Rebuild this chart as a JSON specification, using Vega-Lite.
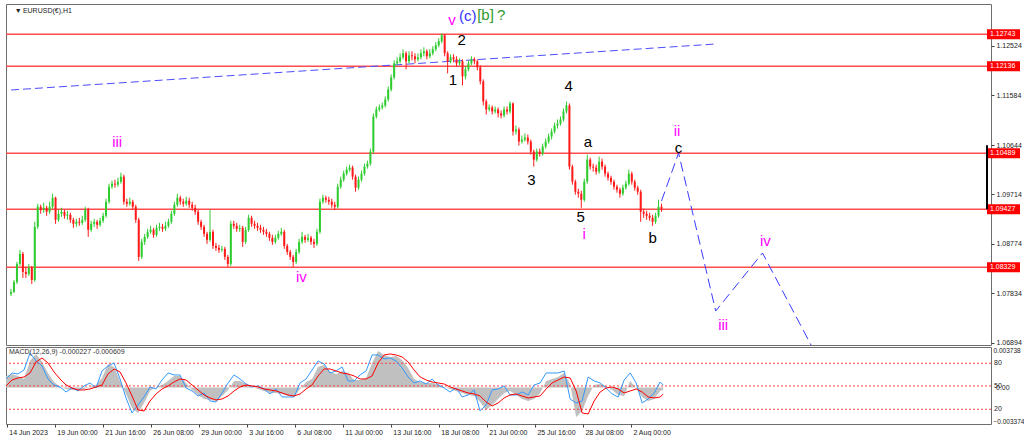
{
  "$schema": "https://vega.github.io/schema/vega-lite/v6.json",
  "background": "white",
  "padding": {"left": 3, "top": 3, "right": 0, "bottom": 0},
  "spacing": 2,
  "bounds": "flush",
  "config": {
    "view": {"stroke": "#6e6e6e", "strokeWidth": 1},
    "font": "Liberation Sans",
    "axis": {"labelFont": "Liberation Sans", "labelFontSize": 7, "labelColor": "#222222", "tickColor": "#444444", "grid": false, "domain": false, "title": null}
  },
  "datasets": {
    "candles": [
      {"i":0,"o":1.07822,"h":1.07917,"l":1.07784,"c":1.0786},
      {"i":4,"o":1.0786,"h":1.08088,"l":1.07841,"c":1.0805},
      {"i":8,"o":1.0805,"h":1.0843,"l":1.08012,"c":1.08392},
      {"i":12,"o":1.08392,"h":1.08658,"l":1.08354,"c":1.08582},
      {"i":16,"o":1.08582,"h":1.0862,"l":1.08126,"c":1.0824},
      {"i":20,"o":1.0824,"h":1.08335,"l":1.08126,"c":1.08202},
      {"i":24,"o":1.08202,"h":1.08392,"l":1.08164,"c":1.08316},
      {"i":28,"o":1.08316,"h":1.08354,"l":1.08012,"c":1.08088},
      {"i":32,"o":1.08088,"h":1.0919,"l":1.0805,"c":1.09095},
      {"i":36,"o":1.09095,"h":1.09532,"l":1.09057,"c":1.09475},
      {"i":40,"o":1.09475,"h":1.09513,"l":1.09342,"c":1.09418},
      {"i":44,"o":1.09418,"h":1.09551,"l":1.09361,"c":1.09456},
      {"i":48,"o":1.09456,"h":1.09494,"l":1.09304,"c":1.0938},
      {"i":52,"o":1.0938,"h":1.0957,"l":1.09342,"c":1.09475},
      {"i":56,"o":1.09475,"h":1.09722,"l":1.09437,"c":1.09646},
      {"i":60,"o":1.09646,"h":1.09665,"l":1.09152,"c":1.09228},
      {"i":64,"o":1.09228,"h":1.09418,"l":1.0919,"c":1.09342},
      {"i":68,"o":1.09342,"h":1.09456,"l":1.09285,"c":1.0938},
      {"i":72,"o":1.0938,"h":1.09418,"l":1.09247,"c":1.09304},
      {"i":76,"o":1.09304,"h":1.09399,"l":1.09228,"c":1.09323},
      {"i":80,"o":1.09323,"h":1.09361,"l":1.09171,"c":1.09228},
      {"i":84,"o":1.09228,"h":1.09266,"l":1.09076,"c":1.09152},
      {"i":88,"o":1.09152,"h":1.09247,"l":1.09095,"c":1.0919},
      {"i":92,"o":1.0919,"h":1.09266,"l":1.09114,"c":1.09171},
      {"i":96,"o":1.09171,"h":1.09304,"l":1.09133,"c":1.09228},
      {"i":100,"o":1.09228,"h":1.09475,"l":1.0919,"c":1.09418},
      {"i":104,"o":1.09418,"h":1.09456,"l":1.08905,"c":1.09038},
      {"i":108,"o":1.09038,"h":1.09209,"l":1.09,"c":1.09152},
      {"i":112,"o":1.09152,"h":1.09247,"l":1.09095,"c":1.0919},
      {"i":116,"o":1.0919,"h":1.09228,"l":1.09057,"c":1.09133},
      {"i":120,"o":1.09133,"h":1.09266,"l":1.09095,"c":1.09209},
      {"i":124,"o":1.09209,"h":1.09361,"l":1.09171,"c":1.09304},
      {"i":128,"o":1.09304,"h":1.09627,"l":1.09266,"c":1.0957},
      {"i":132,"o":1.0957,"h":1.09912,"l":1.09532,"c":1.09855},
      {"i":136,"o":1.09855,"h":1.09969,"l":1.09817,"c":1.09912},
      {"i":140,"o":1.09912,"h":1.09988,"l":1.09836,"c":1.09893},
      {"i":144,"o":1.09893,"h":1.10026,"l":1.09855,"c":1.0995},
      {"i":148,"o":1.0995,"h":1.10121,"l":1.09912,"c":1.10045},
      {"i":152,"o":1.10045,"h":1.10083,"l":1.09513,"c":1.0957},
      {"i":156,"o":1.0957,"h":1.09627,"l":1.09475,"c":1.09532},
      {"i":160,"o":1.09532,"h":1.09646,"l":1.09494,"c":1.0957},
      {"i":164,"o":1.0957,"h":1.09608,"l":1.09418,"c":1.09475},
      {"i":168,"o":1.09475,"h":1.09513,"l":1.09171,"c":1.09228},
      {"i":172,"o":1.09228,"h":1.09266,"l":1.08449,"c":1.08525},
      {"i":176,"o":1.08525,"h":1.08867,"l":1.08487,"c":1.0881},
      {"i":180,"o":1.0881,"h":1.08962,"l":1.08753,"c":1.08905},
      {"i":184,"o":1.08905,"h":1.09057,"l":1.08867,"c":1.09},
      {"i":188,"o":1.09,"h":1.09114,"l":1.08962,"c":1.09038},
      {"i":192,"o":1.09038,"h":1.09076,"l":1.08886,"c":1.08943},
      {"i":196,"o":1.08943,"h":1.09133,"l":1.08905,"c":1.09076},
      {"i":200,"o":1.09076,"h":1.09171,"l":1.09019,"c":1.09095},
      {"i":204,"o":1.09095,"h":1.09152,"l":1.09,"c":1.09057},
      {"i":208,"o":1.09057,"h":1.0919,"l":1.09019,"c":1.09114},
      {"i":212,"o":1.09114,"h":1.09247,"l":1.09076,"c":1.0919},
      {"i":216,"o":1.0919,"h":1.09399,"l":1.09152,"c":1.09342},
      {"i":220,"o":1.09342,"h":1.0957,"l":1.09304,"c":1.09513},
      {"i":224,"o":1.09513,"h":1.09722,"l":1.09475,"c":1.09646},
      {"i":228,"o":1.09646,"h":1.09684,"l":1.09513,"c":1.0957},
      {"i":232,"o":1.0957,"h":1.09627,"l":1.09475,"c":1.09532},
      {"i":236,"o":1.09532,"h":1.09665,"l":1.09494,"c":1.09589},
      {"i":240,"o":1.09589,"h":1.09646,"l":1.09456,"c":1.09513},
      {"i":244,"o":1.09513,"h":1.0957,"l":1.09399,"c":1.09456},
      {"i":248,"o":1.09456,"h":1.09513,"l":1.09323,"c":1.0938},
      {"i":252,"o":1.0938,"h":1.09418,"l":1.09133,"c":1.0919},
      {"i":256,"o":1.0919,"h":1.09228,"l":1.09038,"c":1.09095},
      {"i":260,"o":1.09095,"h":1.09133,"l":1.08905,"c":1.08962},
      {"i":264,"o":1.08962,"h":1.09,"l":1.08772,"c":1.08848},
      {"i":268,"o":1.08848,"h":1.09418,"l":1.0881,"c":1.09},
      {"i":272,"o":1.09,"h":1.09038,"l":1.08677,"c":1.08734},
      {"i":276,"o":1.08734,"h":1.08791,"l":1.08639,"c":1.08696},
      {"i":280,"o":1.08696,"h":1.08753,"l":1.08601,"c":1.08658},
      {"i":284,"o":1.08658,"h":1.08734,"l":1.0862,"c":1.08677},
      {"i":288,"o":1.08677,"h":1.08715,"l":1.08468,"c":1.08525},
      {"i":292,"o":1.08525,"h":1.08563,"l":1.08335,"c":1.08392},
      {"i":296,"o":1.08392,"h":1.09209,"l":1.08354,"c":1.09152},
      {"i":300,"o":1.09152,"h":1.09209,"l":1.09057,"c":1.09114},
      {"i":304,"o":1.09114,"h":1.09171,"l":1.09,"c":1.09057},
      {"i":308,"o":1.09057,"h":1.09133,"l":1.09,"c":1.09076},
      {"i":312,"o":1.09076,"h":1.09114,"l":1.08715,"c":1.0881},
      {"i":316,"o":1.0881,"h":1.09095,"l":1.08772,"c":1.09038},
      {"i":320,"o":1.09038,"h":1.09323,"l":1.09,"c":1.09266},
      {"i":324,"o":1.09266,"h":1.09304,"l":1.09095,"c":1.09152},
      {"i":328,"o":1.09152,"h":1.09209,"l":1.09057,"c":1.09114},
      {"i":332,"o":1.09114,"h":1.09171,"l":1.09019,"c":1.09076},
      {"i":336,"o":1.09076,"h":1.09133,"l":1.08981,"c":1.09038},
      {"i":340,"o":1.09038,"h":1.09095,"l":1.08943,"c":1.09},
      {"i":344,"o":1.09,"h":1.09057,"l":1.08905,"c":1.08962},
      {"i":348,"o":1.08962,"h":1.09,"l":1.08829,"c":1.08886},
      {"i":352,"o":1.08886,"h":1.08943,"l":1.08753,"c":1.0881},
      {"i":356,"o":1.0881,"h":1.08943,"l":1.08772,"c":1.08886},
      {"i":360,"o":1.08886,"h":1.09019,"l":1.08848,"c":1.08962},
      {"i":364,"o":1.08962,"h":1.09076,"l":1.08924,"c":1.09},
      {"i":368,"o":1.09,"h":1.09038,"l":1.08677,"c":1.08734},
      {"i":372,"o":1.08734,"h":1.08772,"l":1.08563,"c":1.0862},
      {"i":376,"o":1.0862,"h":1.08658,"l":1.08468,"c":1.08525},
      {"i":380,"o":1.08525,"h":1.08563,"l":1.08335,"c":1.0843},
      {"i":384,"o":1.0843,"h":1.08677,"l":1.08392,"c":1.0862},
      {"i":388,"o":1.0862,"h":1.08867,"l":1.08582,"c":1.0881},
      {"i":392,"o":1.0881,"h":1.09,"l":1.08772,"c":1.08905},
      {"i":396,"o":1.08905,"h":1.08943,"l":1.08791,"c":1.08848},
      {"i":400,"o":1.08848,"h":1.08962,"l":1.0881,"c":1.08886},
      {"i":404,"o":1.08886,"h":1.08924,"l":1.08753,"c":1.0881},
      {"i":408,"o":1.0881,"h":1.08867,"l":1.08696,"c":1.08772},
      {"i":412,"o":1.08772,"h":1.09057,"l":1.08734,"c":1.09},
      {"i":416,"o":1.09,"h":1.09627,"l":1.08962,"c":1.0957},
      {"i":420,"o":1.0957,"h":1.09703,"l":1.09532,"c":1.09646},
      {"i":424,"o":1.09646,"h":1.09684,"l":1.09551,"c":1.09608},
      {"i":428,"o":1.09608,"h":1.09665,"l":1.09513,"c":1.0957},
      {"i":432,"o":1.0957,"h":1.09627,"l":1.09456,"c":1.09513},
      {"i":436,"o":1.09513,"h":1.0957,"l":1.09418,"c":1.09475},
      {"i":440,"o":1.09475,"h":1.09912,"l":1.09437,"c":1.09855},
      {"i":444,"o":1.09855,"h":1.10045,"l":1.09817,"c":1.09988},
      {"i":448,"o":1.09988,"h":1.10159,"l":1.0995,"c":1.10102},
      {"i":452,"o":1.10102,"h":1.10235,"l":1.10064,"c":1.10178},
      {"i":456,"o":1.10178,"h":1.10273,"l":1.1014,"c":1.10216},
      {"i":460,"o":1.10216,"h":1.10254,"l":1.09988,"c":1.10045},
      {"i":464,"o":1.10045,"h":1.10083,"l":1.0976,"c":1.09836},
      {"i":468,"o":1.09836,"h":1.10045,"l":1.09798,"c":1.09988},
      {"i":472,"o":1.09988,"h":1.10159,"l":1.0995,"c":1.10102},
      {"i":476,"o":1.10102,"h":1.10292,"l":1.10064,"c":1.10235},
      {"i":480,"o":1.10235,"h":1.10349,"l":1.10197,"c":1.10292},
      {"i":484,"o":1.10292,"h":1.10577,"l":1.10254,"c":1.1052},
      {"i":488,"o":1.1052,"h":1.11242,"l":1.10482,"c":1.11185},
      {"i":492,"o":1.11185,"h":1.11375,"l":1.11147,"c":1.11318},
      {"i":496,"o":1.11318,"h":1.11413,"l":1.1128,"c":1.11356},
      {"i":500,"o":1.11356,"h":1.11451,"l":1.11318,"c":1.11394},
      {"i":504,"o":1.11394,"h":1.11565,"l":1.11356,"c":1.11508},
      {"i":508,"o":1.11508,"h":1.11755,"l":1.1147,"c":1.11698},
      {"i":512,"o":1.11698,"h":1.11983,"l":1.1166,"c":1.11926},
      {"i":516,"o":1.11926,"h":1.12249,"l":1.11888,"c":1.12192},
      {"i":520,"o":1.12192,"h":1.12306,"l":1.12154,"c":1.1223},
      {"i":524,"o":1.1223,"h":1.12382,"l":1.12192,"c":1.12306},
      {"i":528,"o":1.12306,"h":1.12458,"l":1.12268,"c":1.12382},
      {"i":532,"o":1.12382,"h":1.1242,"l":1.12078,"c":1.1223},
      {"i":536,"o":1.1223,"h":1.1242,"l":1.12192,"c":1.12344},
      {"i":540,"o":1.12344,"h":1.1242,"l":1.12249,"c":1.12325},
      {"i":544,"o":1.12325,"h":1.12382,"l":1.12192,"c":1.12268},
      {"i":548,"o":1.12268,"h":1.12382,"l":1.1223,"c":1.12306},
      {"i":552,"o":1.12306,"h":1.12458,"l":1.12268,"c":1.12382},
      {"i":556,"o":1.12382,"h":1.12496,"l":1.12325,"c":1.1242},
      {"i":560,"o":1.1242,"h":1.12458,"l":1.12268,"c":1.12325},
      {"i":564,"o":1.12325,"h":1.12458,"l":1.12287,"c":1.12382},
      {"i":568,"o":1.12382,"h":1.12515,"l":1.12344,"c":1.12458},
      {"i":572,"o":1.12458,"h":1.12591,"l":1.1242,"c":1.12534},
      {"i":576,"o":1.12534,"h":1.12667,"l":1.12496,"c":1.1261},
      {"i":580,"o":1.1261,"h":1.12762,"l":1.12572,"c":1.12724},
      {"i":584,"o":1.12724,"h":1.12743,"l":1.12325,"c":1.12382},
      {"i":588,"o":1.12382,"h":1.1242,"l":1.12002,"c":1.1223},
      {"i":592,"o":1.1223,"h":1.12363,"l":1.12192,"c":1.12306},
      {"i":596,"o":1.12306,"h":1.12363,"l":1.12211,"c":1.12268},
      {"i":600,"o":1.12268,"h":1.12325,"l":1.12135,"c":1.12192},
      {"i":604,"o":1.12192,"h":1.12287,"l":1.12154,"c":1.1223},
      {"i":608,"o":1.1223,"h":1.12268,"l":1.11774,"c":1.11945},
      {"i":612,"o":1.11945,"h":1.12135,"l":1.11888,"c":1.12078},
      {"i":616,"o":1.12078,"h":1.12249,"l":1.1204,"c":1.12192},
      {"i":620,"o":1.12192,"h":1.12325,"l":1.12154,"c":1.12268},
      {"i":624,"o":1.12268,"h":1.12306,"l":1.12173,"c":1.1223},
      {"i":628,"o":1.1223,"h":1.12268,"l":1.12059,"c":1.12116},
      {"i":632,"o":1.12116,"h":1.12154,"l":1.11793,"c":1.1185},
      {"i":636,"o":1.1185,"h":1.11888,"l":1.11394,"c":1.1147},
      {"i":640,"o":1.1147,"h":1.11508,"l":1.11223,"c":1.11318},
      {"i":644,"o":1.11318,"h":1.11413,"l":1.1128,"c":1.11356},
      {"i":648,"o":1.11356,"h":1.11394,"l":1.11223,"c":1.1128},
      {"i":652,"o":1.1128,"h":1.11375,"l":1.11242,"c":1.11318},
      {"i":656,"o":1.11318,"h":1.11356,"l":1.11166,"c":1.11242},
      {"i":660,"o":1.11242,"h":1.11299,"l":1.11147,"c":1.11204},
      {"i":664,"o":1.11204,"h":1.11375,"l":1.11166,"c":1.11318},
      {"i":668,"o":1.11318,"h":1.11375,"l":1.11223,"c":1.1128},
      {"i":672,"o":1.1128,"h":1.1147,"l":1.11242,"c":1.11432},
      {"i":676,"o":1.11432,"h":1.11451,"l":1.10824,"c":1.109},
      {"i":680,"o":1.109,"h":1.11014,"l":1.10843,"c":1.10938},
      {"i":684,"o":1.10938,"h":1.10976,"l":1.10634,"c":1.1071},
      {"i":688,"o":1.1071,"h":1.10824,"l":1.10672,"c":1.10748},
      {"i":692,"o":1.10748,"h":1.10862,"l":1.1071,"c":1.10786},
      {"i":696,"o":1.10786,"h":1.10843,"l":1.10653,"c":1.1071},
      {"i":700,"o":1.1071,"h":1.10748,"l":1.10463,"c":1.1052},
      {"i":704,"o":1.1052,"h":1.10558,"l":1.10235,"c":1.10368},
      {"i":708,"o":1.10368,"h":1.10577,"l":1.1033,"c":1.1052},
      {"i":712,"o":1.1052,"h":1.10577,"l":1.10425,"c":1.10482},
      {"i":716,"o":1.10482,"h":1.10672,"l":1.10444,"c":1.10615},
      {"i":720,"o":1.10615,"h":1.10767,"l":1.10577,"c":1.1071},
      {"i":724,"o":1.1071,"h":1.10862,"l":1.10672,"c":1.10805},
      {"i":728,"o":1.10805,"h":1.10957,"l":1.10748,"c":1.109},
      {"i":732,"o":1.109,"h":1.11071,"l":1.10862,"c":1.11014},
      {"i":736,"o":1.11014,"h":1.11128,"l":1.10957,"c":1.11052},
      {"i":740,"o":1.11052,"h":1.11185,"l":1.11014,"c":1.11128},
      {"i":744,"o":1.11128,"h":1.11337,"l":1.1109,"c":1.1128},
      {"i":748,"o":1.1128,"h":1.1147,"l":1.11242,"c":1.11394},
      {"i":752,"o":1.11394,"h":1.11432,"l":1.10178,"c":1.10235},
      {"i":756,"o":1.10235,"h":1.10273,"l":1.09893,"c":1.0995},
      {"i":760,"o":1.0995,"h":1.09988,"l":1.09703,"c":1.0976},
      {"i":764,"o":1.0976,"h":1.09817,"l":1.09646,"c":1.09722},
      {"i":768,"o":1.09722,"h":1.09779,"l":1.09456,"c":1.09608},
      {"i":772,"o":1.09608,"h":1.10007,"l":1.0957,"c":1.0995},
      {"i":776,"o":1.0995,"h":1.10463,"l":1.09912,"c":1.10368},
      {"i":780,"o":1.10368,"h":1.10406,"l":1.10178,"c":1.10235},
      {"i":784,"o":1.10235,"h":1.10292,"l":1.1014,"c":1.10216},
      {"i":788,"o":1.10216,"h":1.10273,"l":1.10083,"c":1.1014},
      {"i":792,"o":1.1014,"h":1.10425,"l":1.10102,"c":1.1033},
      {"i":796,"o":1.1033,"h":1.10387,"l":1.10178,"c":1.10235},
      {"i":800,"o":1.10235,"h":1.10273,"l":1.10045,"c":1.10102},
      {"i":804,"o":1.10102,"h":1.1014,"l":1.09969,"c":1.10026},
      {"i":808,"o":1.10026,"h":1.10064,"l":1.09893,"c":1.0995},
      {"i":812,"o":1.0995,"h":1.09988,"l":1.09798,"c":1.09855},
      {"i":816,"o":1.09855,"h":1.09893,"l":1.09741,"c":1.09798},
      {"i":820,"o":1.09798,"h":1.09836,"l":1.09646,"c":1.09722},
      {"i":824,"o":1.09722,"h":1.09893,"l":1.09684,"c":1.09836},
      {"i":828,"o":1.09836,"h":1.09969,"l":1.09798,"c":1.09912},
      {"i":832,"o":1.09912,"h":1.10178,"l":1.09874,"c":1.10102},
      {"i":836,"o":1.10102,"h":1.1014,"l":1.09893,"c":1.0995},
      {"i":840,"o":1.0995,"h":1.09988,"l":1.09779,"c":1.09836},
      {"i":844,"o":1.09836,"h":1.09874,"l":1.09703,"c":1.0976},
      {"i":848,"o":1.0976,"h":1.09798,"l":1.0919,"c":1.0938},
      {"i":852,"o":1.0938,"h":1.09437,"l":1.09266,"c":1.09342},
      {"i":856,"o":1.09342,"h":1.09399,"l":1.09228,"c":1.09304},
      {"i":860,"o":1.09304,"h":1.09361,"l":1.09209,"c":1.09266},
      {"i":864,"o":1.09266,"h":1.09323,"l":1.09114,"c":1.0919},
      {"i":868,"o":1.0919,"h":1.09361,"l":1.09152,"c":1.09304},
      {"i":872,"o":1.09304,"h":1.09608,"l":1.09266,"c":1.09475},
      {"i":876,"o":1.09475,"h":1.09532,"l":1.0938,"c":1.09437}
    ],
    "macd": [
      {"i":0,"h":0.001063,"s":0.000139,"f":0.000785},
      {"i":8,"h":0.001247,"s":0.000693,"f":0.00134},
      {"i":16,"h":0.001063,"s":0.000878,"f":0.001247},
      {"i":24,"h":0.000785,"s":0.00097,"f":0.001617},
      {"i":32,"h":0.002449,"s":0.00134,"f":0.003188},
      {"i":40,"h":0.003095,"s":0.002356,"f":0.002449},
      {"i":48,"h":0.002356,"s":0.002726,"f":0.001987},
      {"i":56,"h":0.00134,"s":0.002264,"f":0.000785},
      {"i":64,"h":0.000508,"s":0.001432,"f":0.000231},
      {"i":72,"h":0.000046,"s":0.000785,"f":0.000046},
      {"i":80,"h":-0.000139,"s":0.000231,"f":-0.000416},
      {"i":88,"h":-0.000231,"s":-0.000046,"f":-0.000046},
      {"i":96,"h":-0.000231,"s":-0.000231,"f":-0.000323},
      {"i":104,"h":-0.000139,"s":-0.000231,"f":0.000139},
      {"i":112,"h":0.000046,"s":-0.000139,"f":0.000416},
      {"i":120,"h":0.000231,"s":0.000046,"f":-0.000046},
      {"i":128,"h":0.000878,"s":0.000231,"f":0.001525},
      {"i":136,"h":0.002171,"s":0.001247,"f":0.001987},
      {"i":144,"h":0.001894,"s":0.001709,"f":0.002264},
      {"i":152,"h":0.000601,"s":0.001432,"f":0.000785},
      {"i":160,"h":-0.000601,"s":0.000416,"f":-0.00097},
      {"i":168,"h":-0.001894,"s":-0.000785,"f":-0.002356},
      {"i":176,"h":-0.002356,"s":-0.002079,"f":-0.001617},
      {"i":184,"h":-0.001432,"s":-0.002171,"f":-0.000878},
      {"i":192,"h":-0.000323,"s":-0.001247,"f":0.000046},
      {"i":200,"h":0.000046,"s":-0.000601,"f":-0.000139},
      {"i":208,"h":0.000231,"s":-0.000139,"f":0.000693},
      {"i":216,"h":0.000601,"s":0.000139,"f":0.00134},
      {"i":224,"h":0.001063,"s":0.000508,"f":0.001155},
      {"i":232,"h":0.001063,"s":0.000785,"f":0.001155},
      {"i":240,"h":0.000416,"s":0.000693,"f":-0.000046},
      {"i":248,"h":-0.000231,"s":0.000231,"f":-0.000323},
      {"i":256,"h":-0.000693,"s":-0.000231,"f":-0.000785},
      {"i":264,"h":-0.001063,"s":-0.000693,"f":-0.000508},
      {"i":272,"h":-0.001155,"s":-0.00097,"f":-0.001247},
      {"i":280,"h":-0.001247,"s":-0.001155,"f":-0.00134},
      {"i":288,"h":-0.000785,"s":-0.001063,"f":-0.000508},
      {"i":296,"h":-0.000231,"s":-0.000785,"f":0.000416},
      {"i":304,"h":0.000601,"s":-0.000323,"f":0.001155},
      {"i":312,"h":0.000601,"s":0.000046,"f":0.000785},
      {"i":320,"h":0.000323,"s":0.000231,"f":0.000323},
      {"i":328,"h":0.000046,"s":0.000139,"f":0.000046},
      {"i":336,"h":-0.000139,"s":0.000046,"f":0.000139},
      {"i":344,"h":-0.000323,"s":-0.000139,"f":-0.000139},
      {"i":352,"h":-0.000508,"s":-0.000231,"f":-0.000601},
      {"i":360,"h":-0.000508,"s":-0.000323,"f":-0.000139},
      {"i":368,"h":-0.000601,"s":-0.000508,"f":-0.000878},
      {"i":376,"h":-0.000785,"s":-0.000693,"f":-0.000878},
      {"i":384,"h":-0.000878,"s":-0.000785,"f":-0.000878},
      {"i":392,"h":-0.000139,"s":-0.000601,"f":0.000416},
      {"i":400,"h":0.000508,"s":-0.000139,"f":0.000785},
      {"i":408,"h":0.000785,"s":0.000231,"f":0.001617},
      {"i":416,"h":0.001894,"s":0.001063,"f":0.002449},
      {"i":424,"h":0.002079,"s":0.001709,"f":0.002171},
      {"i":432,"h":0.001432,"s":0.001709,"f":0.00134},
      {"i":440,"h":0.001247,"s":0.001525,"f":0.001525},
      {"i":448,"h":0.001525,"s":0.00134,"f":0.001894},
      {"i":456,"h":0.00134,"s":0.001247,"f":0.000601},
      {"i":464,"h":0.000693,"s":0.001063,"f":0.000601},
      {"i":472,"h":0.000693,"s":0.000785,"f":0.001155},
      {"i":480,"h":0.000878,"s":0.000785,"f":0.001525},
      {"i":488,"h":0.002264,"s":0.001063,"f":0.003003},
      {"i":496,"h":0.003373,"s":0.002264,"f":0.003003},
      {"i":504,"h":0.003003,"s":0.003003,"f":0.002633},
      {"i":512,"h":0.002818,"s":0.003095,"f":0.002726},
      {"i":520,"h":0.002911,"s":0.003003,"f":0.002449},
      {"i":528,"h":0.002541,"s":0.002818,"f":0.001802},
      {"i":536,"h":0.001802,"s":0.002356,"f":0.00097},
      {"i":544,"h":0.000785,"s":0.001617,"f":0.000416},
      {"i":552,"h":0.000508,"s":0.00097,"f":0.000601},
      {"i":560,"h":0.000416,"s":0.000693,"f":0.000323},
      {"i":568,"h":0.000416,"s":0.000508,"f":0.000785},
      {"i":576,"h":0.000323,"s":0.000416,"f":0.000231},
      {"i":584,"h":0.000046,"s":0.000323,"f":-0.000046},
      {"i":592,"h":-0.000139,"s":0.000046,"f":-0.000416},
      {"i":600,"h":-0.000323,"s":-0.000139,"f":-0.000046},
      {"i":608,"h":-0.000508,"s":-0.000323,"f":-0.000878},
      {"i":616,"h":-0.000693,"s":-0.000508,"f":-0.000693},
      {"i":624,"h":-0.000785,"s":-0.000601,"f":-0.000231},
      {"i":632,"h":-0.00134,"s":-0.000785,"f":-0.002171},
      {"i":640,"h":-0.002079,"s":-0.00134,"f":-0.001617},
      {"i":648,"h":-0.001617,"s":-0.001709,"f":-0.000231},
      {"i":656,"h":-0.001063,"s":-0.001432,"f":-0.000139},
      {"i":664,"h":-0.000508,"s":-0.00097,"f":0.000139},
      {"i":672,"h":-0.000323,"s":-0.000693,"f":-0.000693},
      {"i":680,"h":-0.000693,"s":-0.000601,"f":-0.000693},
      {"i":688,"h":-0.001063,"s":-0.000785,"f":-0.000416},
      {"i":696,"h":-0.001247,"s":-0.00097,"f":-0.000693},
      {"i":704,"h":-0.001063,"s":-0.000878,"f":0.000231},
      {"i":712,"h":-0.000508,"s":-0.000785,"f":0.000416},
      {"i":720,"h":0.000601,"s":-0.000139,"f":0.00134},
      {"i":728,"h":0.000785,"s":0.000416,"f":0.00134},
      {"i":736,"h":0.00097,"s":0.000693,"f":0.00134},
      {"i":744,"h":0.00134,"s":0.00097,"f":0.001525},
      {"i":752,"h":0.000323,"s":0.000878,"f":-0.001063},
      {"i":760,"h":-0.002726,"s":-0.000323,"f":-0.001432},
      {"i":768,"h":-0.002171,"s":-0.002356,"f":-0.001247},
      {"i":776,"h":-0.000785,"s":-0.002449,"f":0.00097},
      {"i":784,"h":0.000231,"s":-0.001247,"f":0.000601},
      {"i":792,"h":0.000323,"s":-0.000416,"f":0.000416},
      {"i":800,"h":0.000139,"s":-0.000046,"f":-0.000046},
      {"i":808,"h":-0.000231,"s":0.000046,"f":-0.000601},
      {"i":816,"h":-0.000693,"s":-0.000139,"f":-0.000878},
      {"i":824,"h":-0.000785,"s":-0.000508,"f":0.000693},
      {"i":832,"h":0.000601,"s":-0.000323,"f":0.00134},
      {"i":840,"h":-0.000046,"s":-0.000139,"f":0.000416},
      {"i":848,"h":-0.000878,"s":-0.000416,"f":-0.001432},
      {"i":856,"h":-0.001247,"s":-0.000878,"f":-0.001063},
      {"i":864,"h":-0.001063,"s":-0.00097,"f":-0.000508},
      {"i":872,"h":-0.000323,"s":-0.000878,"f":0.000508},
      {"i":876,"h":-0.000227,"s":-0.000609,"f":0.000231}
    ],
    "levels": [
      {"p":1.12743},{"p":1.12136},{"p":1.10489},{"p":1.09427},{"p":1.08329}
    ],
    "macdLevels": [
      {"v":0.002236,"t":"80"},
      {"v":0.000139,"t":"50"},
      {"v":-0.002014,"t":"20"}
    ],
    "trend": [
      {"i":0,"p":1.11687},{"i":949,"p":1.12558}
    ],
    "proj": [
      {"i":876,"p":1.09584},{"i":899,"p":1.10493},{"i":949,"p":1.075},{"i":1012,"p":1.08599},{"i":1078,"p":1.0684}
    ],
    "waves": [
      {"i":143,"p":1.10702,"t":"iii","col":"#ff00ff"},
      {"i":391,"p":1.08144,"t":"iv","col":"#ff00ff"},
      {"i":594,"p":1.13013,"t":"v","col":"#ff00ff"},
      {"i":615,"p":1.13089,"t":"(c)","col":"#3333ff"},
      {"i":639,"p":1.13108,"t":"[b]","col":"#2e9a2e"},
      {"i":660,"p":1.13108,"t":"?","col":"#2e9a2e"},
      {"i":607,"p":1.12634,"t":"2","col":"#000000"},
      {"i":595,"p":1.11876,"t":"1","col":"#000000"},
      {"i":701,"p":1.0998,"t":"3","col":"#000000"},
      {"i":751,"p":1.11763,"t":"4","col":"#000000"},
      {"i":767,"p":1.09281,"t":"5","col":"#000000"},
      {"i":772,"p":1.08959,"t":"i","col":"#ff00ff"},
      {"i":777,"p":1.10702,"t":"a","col":"#000000"},
      {"i":864,"p":1.08883,"t":"b","col":"#000000"},
      {"i":897,"p":1.10909,"t":"ii","col":"#ff00ff"},
      {"i":899,"p":1.10588,"t":"c","col":"#000000"},
      {"i":959,"p":1.07235,"t":"iii","col":"#ff00ff"},
      {"i":1016,"p":1.08826,"t":"iv","col":"#ff00ff"}
    ]
  },
  "vconcat": [
    {
      "width": 985,
      "height": 341,
      "layer": [
        {
          "data": {"name": "levels"},
          "mark": {"type": "rule", "color": "#ff4d4d", "strokeWidth": 1.5},
          "encoding": {
            "y": {
              "field": "p", "type": "quantitative",
              "scale": {"domain": [1.06856, 1.13316], "nice": false, "zero": false},
              "axis": {
                "orient": "right",
                "values": [1.12994, 1.12524, 1.12054, 1.11584, 1.11114, 1.10644, 1.10174, 1.09714, 1.09244, 1.08774, 1.08304, 1.07834, 1.07364, 1.06894],
                "format": ".5f", "tickSize": 3, "labelPadding": 2, "ticks": true
              }
            }
          }
        },
        {
          "data": {"name": "trend"},
          "mark": {"type": "line", "color": "#4d4dff", "strokeWidth": 1, "strokeDash": [8, 4]},
          "encoding": {
            "x": {"field": "i", "type": "quantitative", "scale": {"domain": [0, 1313], "nice": false, "zero": false}, "axis": null},
            "y": {"field": "p", "type": "quantitative"}
          }
        },
        {
          "data": {"name": "candles"},
          "mark": {"type": "rule", "strokeWidth": 1},
          "encoding": {
            "x": {"field": "i", "type": "quantitative", "axis": null},
            "y": {"field": "l", "type": "quantitative"},
            "y2": {"field": "h"},
            "color": {"condition": {"test": "datum.c >= datum.o", "value": "#2ecc2e"}, "value": "#ff1a1a"}
          }
        },
        {
          "data": {"name": "candles"},
          "mark": {"type": "bar", "size": 2},
          "encoding": {
            "x": {"field": "i", "type": "quantitative", "axis": null},
            "y": {"field": "o", "type": "quantitative"},
            "y2": {"field": "c"},
            "color": {"condition": {"test": "datum.c >= datum.o", "value": "#2ecc2e"}, "value": "#ff1a1a"}
          }
        },
        {
          "data": {"name": "proj"},
          "mark": {"type": "line", "color": "#3a3aff", "strokeWidth": 1, "strokeDash": [10, 5], "clip": true},
          "encoding": {
            "x": {"field": "i", "type": "quantitative", "axis": null},
            "y": {"field": "p", "type": "quantitative"}
          }
        },
        {
          "data": {"name": "waves"},
          "mark": {"type": "text", "fontSize": 15, "font": "Liberation Sans", "align": "center", "baseline": "middle"},
          "encoding": {
            "x": {"field": "i", "type": "quantitative", "axis": null},
            "y": {"field": "p", "type": "quantitative"},
            "text": {"field": "t"},
            "color": {"field": "col", "type": "nominal", "scale": null}
          }
        },
        {
          "data": {"values": [{"i": 16, "p": 1.13183, "t": "EURUSD(€),H1"}, {"i": 5, "p": 1.13183, "t": "▼"}]},
          "mark": {"type": "text", "fontSize": 7, "align": "left", "baseline": "middle", "color": "#222222"},
          "encoding": {
            "x": {"field": "i", "type": "quantitative", "axis": null},
            "y": {"field": "p", "type": "quantitative"},
            "text": {"field": "t"}
          }
        },
        {
          "data": {"name": "levels"},
          "mark": {"type": "rect", "color": "#ff0000", "xOffset": 1, "x2Offset": 34, "yOffset": -5, "y2Offset": 5},
          "encoding": {
            "x": {"datum": 1313, "type": "quantitative", "axis": null},
            "x2": {"datum": 1313},
            "y": {"field": "p", "type": "quantitative"},
            "y2": {"field": "p"}
          }
        },
        {
          "data": {"name": "levels"},
          "mark": {"type": "text", "align": "left", "baseline": "middle", "dx": 4, "color": "white", "fontSize": 7},
          "encoding": {
            "x": {"datum": 1313, "type": "quantitative", "axis": null},
            "y": {"field": "p", "type": "quantitative"},
            "text": {"field": "p", "format": ".5f"}
          }
        },
        {
          "data": {"values": [{"a": 1.1064, "b": 1.0943}]},
          "mark": {"type": "rule", "color": "#000000", "strokeWidth": 2, "xOffset": 1},
          "encoding": {
            "x": {"datum": 1313, "type": "quantitative", "axis": null},
            "y": {"field": "a", "type": "quantitative"},
            "y2": {"field": "b"}
          }
        }
      ]
    },
    {
      "width": 985,
      "height": 77,
      "layer": [
        {
          "data": {"name": "macd"},
          "mark": {"type": "area", "color": "#c0c0c0", "opacity": 1},
          "encoding": {
            "x": {
              "field": "i", "type": "quantitative",
              "scale": {"domain": [0, 1313], "nice": false, "zero": false},
              "axis": {
                "orient": "bottom",
                "values": [1, 65, 129, 193, 257, 321, 385, 449, 513, 577, 641, 705, 769, 833],
                "labelExpr": "['14 Jun 2023','19 Jun 00:00','21 Jun 16:00','26 Jun 08:00','29 Jun 00:00','3 Jul 16:00','6 Jul 08:00','11 Jul 00:00','13 Jul 16:00','18 Jul 08:00','21 Jul 00:00','25 Jul 16:00','28 Jul 08:00','2 Aug 00:00'][indexof([1,65,129,193,257,321,385,449,513,577,641,705,769,833], datum.value)]",
                "labelAlign": "left", "labelFlush": false, "labelOverlap": false, "tickSize": 3, "labelPadding": 1, "labelOffset": 2
              }
            },
            "y": {
              "field": "h", "type": "quantitative",
              "scale": {"domain": [-0.003374, 0.003738], "nice": false, "zero": false},
              "axis": {
                "orient": "right",
                "values": [0.003738, -0.003374],
                "format": ".6f",
                "labelFlush": true, "ticks": false, "tickSize": 0, "labelPadding": 2, "labelOverlap": false, "labelFontSize": 6.5
              }
            },
            "y2": {"datum": 0}
          }
        },
        {
          "data": {"name": "macdLevels"},
          "mark": {"type": "rule", "color": "#ff4040", "strokeWidth": 1, "strokeDash": [2, 2]},
          "encoding": {
            "y": {"field": "v", "type": "quantitative"}
          }
        },
        {
          "data": {"name": "macdLevels"},
          "mark": {"type": "text", "align": "left", "baseline": "middle", "dx": 3, "fontSize": 7, "color": "#222222"},
          "encoding": {
            "x": {"datum": 1313, "type": "quantitative"},
            "y": {"field": "v", "type": "quantitative"},
            "text": {"field": "t"}
          }
        },
        {
          "data": {"values": [{"v": 0, "t": "0.00"}]},
          "mark": {"type": "text", "align": "left", "baseline": "middle", "dx": 5, "dy": 1, "fontSize": 7, "color": "#222222"},
          "encoding": {
            "x": {"datum": 1313, "type": "quantitative"},
            "y": {"field": "v", "type": "quantitative"},
            "text": {"field": "t"}
          }
        },
        {
          "data": {"name": "macd"},
          "mark": {"type": "line", "color": "#3399ff", "strokeWidth": 1},
          "encoding": {
            "x": {"field": "i", "type": "quantitative"},
            "y": {"field": "f", "type": "quantitative"}
          }
        },
        {
          "data": {"name": "macd"},
          "mark": {"type": "line", "color": "#ff0000", "strokeWidth": 1},
          "encoding": {
            "x": {"field": "i", "type": "quantitative"},
            "y": {"field": "s", "type": "quantitative"}
          }
        },
        {
          "data": {"values": [{"i": 4, "v": 0.00327, "t": "MACD(12,26,9) -0.000227 -0.000609"}]},
          "mark": {"type": "text", "fontSize": 7, "align": "left", "baseline": "middle", "color": "#333333"},
          "encoding": {
            "x": {"field": "i", "type": "quantitative"},
            "y": {"field": "v", "type": "quantitative"},
            "text": {"field": "t"}
          }
        }
      ]
    }
  ]
}
